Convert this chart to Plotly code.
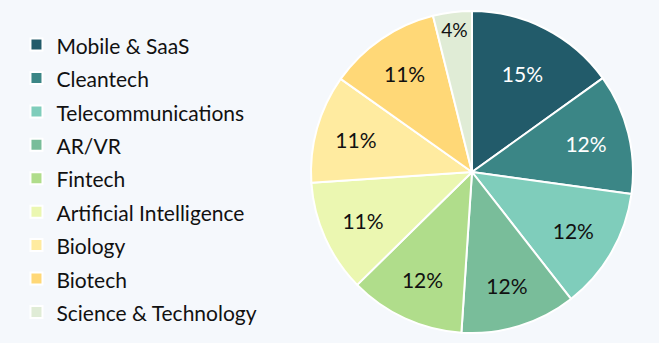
import plotly.graph_objects as go

# Share of companies by sector
categories = [
    "Mobile & SaaS", "Cleantech", "Telecommunications", "AR/VR", "Fintech",
    "Artificial Intelligence", "Biology", "Biotech", "Science & Technology",
]
shares = [15.1, 12.1, 12.3, 11.6, 11.6, 11.3, 10.9, 11.3, 3.9]
colors = [
    "#225b6a", "#3b8686", "#7fcdbb", "#79bd9a", "#b0dd8b",
    "#ebf7b1", "#ffeba0", "#ffd877", "#e0ecd6",
]
text_colors = ["#ffffff", "#ffffff"] + ["#111111"] * 7

BG = "#f5f8fc"
FONT = "Lato, 'Open Sans', sans-serif"

# legend rows use a smaller inline size than the legend font so rows get more air
legend_labels = [f"<span style='font-size:21px'>{c}</span>" for c in categories]

fig = go.Figure(
    go.Pie(
        labels=legend_labels,
        values=shares,
        sort=False,
        direction="clockwise",
        rotation=0,
        marker=dict(colors=colors, line=dict(color="#ffffff", width=2)),
        texttemplate="%{percent:.0%}",
        textposition="inside",
        insidetextorientation="horizontal",
        textfont=dict(family=FONT, size=21, color=text_colors),
        domain=dict(x=[311 / 659, 633 / 659], y=[10 / 343, 332 / 343]),
        hoverinfo="skip",
    )
)

fig.update_layout(
    width=659,
    height=343,
    margin=dict(l=0, r=0, t=0, b=0),
    paper_bgcolor=BG,
    plot_bgcolor=BG,
    font=dict(family=FONT, color="#111111"),
    showlegend=True,
    legend=dict(
        x=0.025,
        xanchor="left",
        y=0.48,
        yanchor="middle",
        font=dict(family=FONT, size=23.4, color="#111111"),
        bgcolor="rgba(0,0,0,0)",
        traceorder="normal",
    ),
)

fig.write_html("out.html")
